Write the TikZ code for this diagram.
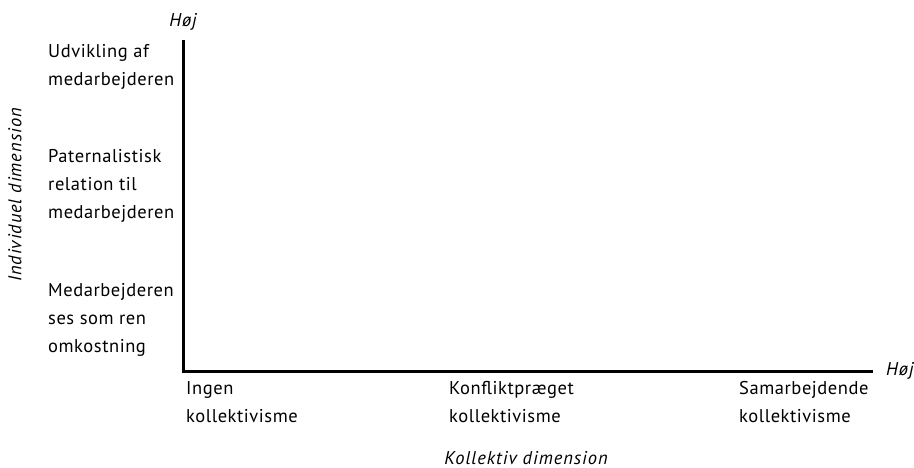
\documentclass[tikz,border=0pt]{standalone}
\usepackage{fontspec}
\setmainfont{PT Sans}
\begin{document}
\begin{tikzpicture}[x=1pt,y=-1pt,
  lbl/.style={anchor=west,align=left,font=\fontsize{18.5}{28}\selectfont\addfontfeature{LetterSpace=3}},
  lbl/.append style={inner sep=0pt},
  ital/.style={font=\fontsize{18.5}{20}\selectfont\itshape\addfontfeature{LetterSpace=5},inner sep=0pt},
  axis/.style={line width=3pt}]
\useasboundingbox (0,0) rectangle (914,468);
\coordinate (o) at (183,371);
\coordinate (ytop) at (183,40);
\coordinate (xend) at (873,371);
\draw[axis] (ytop) -- (o) -- (xend);
\node[ital,anchor=east] (hojy) at (197,22) {Høj};
\node[ital,anchor=west] (hojx) at (886,371) {Høj};
\node[lbl] (u) at (48,67) {Udvikling af\\medarbejderen};
\node[lbl] (p) at (48,186) {Paternalistisk\\relation til\\medarbejderen};
\node[lbl] (m) at (48,320) {Medarbejderen\\ses som ren\\omkostning};
\node[lbl,anchor=north west] (i) at (186,381) {Ingen\\kollektivisme};
\node[lbl,anchor=north west] (k) at (449,381) {Konfliktpræget\\kollektivisme};
\node[lbl,anchor=north west] (s) at (739,381) {Samarbejdende\\kollektivisme};
\node[ital] (kd) at (526,458) {Kollektiv dimension};
\node[ital,rotate=90] (id) at (15,195) {Individuel dimension};
\end{tikzpicture}
\end{document}
